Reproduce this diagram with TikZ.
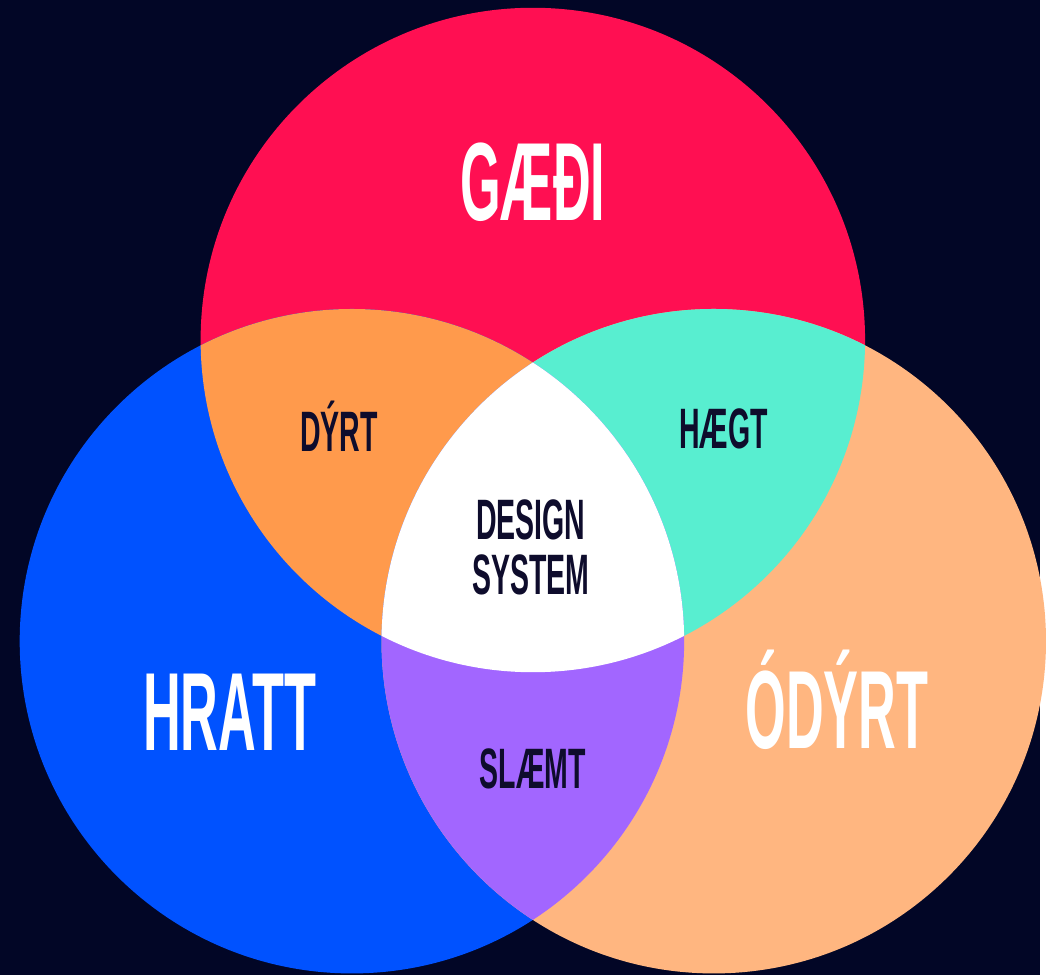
\documentclass[tikz,border=0pt]{standalone}
\usepackage{graphicx}
\usepackage{fontspec}
\setmainfont{Liberation Sans}

\definecolor{bg}{RGB}{2,6,38}
\definecolor{gred}{RGB}{255,15,82}
\definecolor{gblue}{RGB}{0,82,255}
\definecolor{gpeach}{RGB}{255,182,128}
\definecolor{gorange}{RGB}{255,154,76}
\definecolor{gteal}{RGB}{88,238,208}
\definecolor{gpurple}{RGB}{162,102,255}
\definecolor{ink}{RGB}{14,12,44}

\newcommand{\narrow}[1]{\scalebox{0.47}[1]{#1}}
\newcommand{\narrowsm}[1]{\scalebox{0.5}[1]{#1}}

\begin{document}
\begin{tikzpicture}[x=0.01cm,y=-0.01cm,
  biglabel/.style={text=white, inner sep=0pt, anchor=base,
    font=\fontsize{31.8}{32}\selectfont\bfseries},
  smalllabel/.style={text=ink, inner sep=0pt, anchor=base,
    font=\fontsize{16.3}{17}\selectfont\bfseries}]
  \def\rr{3.34cm}
  % canvas
  \fill[bg] (0,0) rectangle (1046,981);
  \coordinate (cR) at (536,342);
  \coordinate (cB) at (354,645);
  \coordinate (cO) at (718,645);
  % the three sets
  \fill[gred] (cR) circle[radius=\rr];
  \fill[gblue] (cB) circle[radius=\rr];
  \fill[gpeach] (cO) circle[radius=\rr];
  % pairwise overlaps
  \begin{scope}
    \clip (cR) circle[radius=\rr];
    \fill[gorange] (cB) circle[radius=\rr];
    \fill[gteal] (cO) circle[radius=\rr];
  \end{scope}
  \begin{scope}
    \clip (cB) circle[radius=\rr];
    \fill[gpurple] (cO) circle[radius=\rr];
  \end{scope}
  % common core
  \begin{scope}
    \clip (cR) circle[radius=\rr];
    \clip (cB) circle[radius=\rr];
    \fill[white] (cO) circle[radius=\rr];
  \end{scope}
  % labels
  \node[biglabel] (gaedi) at (536,222) {\narrow{GÆÐI}};
  \node[biglabel] (hratt) at (231,755) {\narrow{HRATT}};
  \node[biglabel] (odyrt) at (842,753) {\narrow{ÓDÝRT}};
  \node[smalllabel] (dyrt) at (341,454) {\narrowsm{DÝRT}};
  \node[smalllabel] (haegt) at (728,451) {\narrowsm{HÆGT}};
  \node[smalllabel] (design) at (534,543) {\narrowsm{DESIGN}};
  \node[smalllabel] (system) at (534,598) {\narrowsm{SYSTEM}};
  \node[smalllabel] (slaemt) at (536,793) {\narrowsm{SLÆMT}};
\end{tikzpicture}
\end{document}
